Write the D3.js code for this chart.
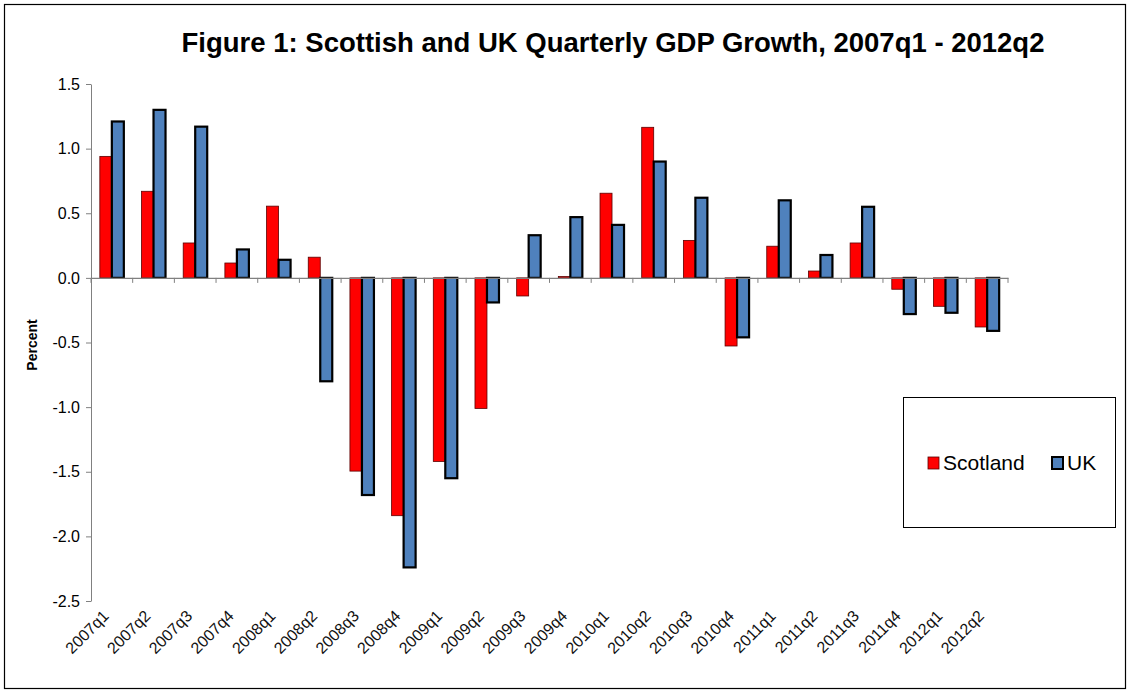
<!DOCTYPE html>
<html>
<head>
<meta charset="utf-8">
<script src="https://cdn.jsdelivr.net/npm/d3@7"></script>
<style>
  body { margin: 0; background: #fff; }
  text { font-family: Arial, "Liberation Sans", sans-serif; }
</style>
</head>
<body>
<div id="chart"></div>
<script>
// Quarterly GDP growth (percent)

const quarters = ['2007q1', '2007q2', '2007q3', '2007q4', '2008q1', '2008q2', '2008q3', '2008q4',
  '2009q1', '2009q2', '2009q3', '2009q4', '2010q1', '2010q2', '2010q3', '2010q4',
  '2011q1', '2011q2', '2011q3', '2011q4', '2012q1', '2012q2'];

const scotland = [0.94, 0.67, 0.27, 0.115, 0.555, 0.16, -1.495, -1.84, -1.42, -1.01, -0.14, 0.01,
  0.655, 1.165, 0.29, -0.527, 0.245, 0.053, 0.27, -0.088, -0.22, -0.38];

const uk = [1.21, 1.30, 1.17, 0.22, 0.14, -0.80, -1.68, -2.24, -1.55, -0.19, 0.33, 0.47,
  0.41, 0.90, 0.62, -0.46, 0.60, 0.177, 0.55, -0.28, -0.27, -0.41];

const seriesNames = ['Scotland', 'UK'];
const yTicks = [1.5, 1.0, 0.5, 0.0, -0.5, -1.0, -1.5, -2.0, -2.5];

const width = 1127;
const height = 690;

const svg = d3.select('#chart')
  .append('svg')
  .attr('width', width)
  .attr('height', height)

// outer chart border
svg.append('rect')
  .attr('x', 4.5).attr('y', 4.5)
  .attr('width', width - 6).attr('height', height - 6)
  .attr('fill', 'none')
  .attr('stroke', '#000')
  .attr('stroke-width', 1.2)

svg.append('text')
  .attr('x', 613)
  .attr('y', 52)
  .attr('text-anchor', 'middle')
  .attr('font-size', '27.5px')
  .attr('font-weight', 'bold')
  .text('Figure 1: Scottish and UK Quarterly GDP Growth, 2007q1 - 2012q2')

// scales
const x = d3.scaleBand()
  .domain(quarters)
  .range([91, 1008])

const xInner = d3.scaleBand()
  .domain(seriesNames)
  .range([0, 24])

const y = d3.scaleLinear()
  .domain([-2.5, 1.5])
  .range([601, 84])

const barOffset = (x.bandwidth() - 24) / 2;

// y axis (plain hyphen for negatives, like the original)
const yAxis = d3.axisLeft(y)
  .tickValues(yTicks)
  .tickFormat((d) => d.toFixed(1))
  .tickSize(5)
  .tickSizeOuter(0)

const yg = svg.append('g')
  .attr('transform', 'translate(91,0)')
  .call(yAxis)
yg.select('.domain').attr('stroke', '#808080')
yg.selectAll('.tick line').attr('stroke', '#808080')
yg.selectAll('.tick text')
  .attr('x', -11)
  .attr('font-size', '16px')
  .attr('fill', '#000')
  .attr('font-family', 'Arial, "Liberation Sans", sans-serif')

svg.append('text')
  .attr('transform', 'translate(37,345) rotate(-90)')
  .attr('text-anchor', 'middle')
  .attr('font-size', '14px')
  .attr('font-weight', 'bold')
  .text('Percent')

// bars
const rows = quarters.map((q, i) => ({ q: q, values: [scotland[i], uk[i]] }));

const groups = svg.selectAll('.group')
  .data(rows)
  .enter()
  .append('g')
  .attr('class', 'group')
  .attr('transform', (d) => 'translate(' + (x(d.q) + barOffset) + ',0)')

groups.selectAll('rect')
  .data((d) => d.values.map((v, k) => ({ name: seriesNames[k], v: v })))
  .enter()
  .append('rect')
  .attr('x', (d) => xInner(d.name))
  .attr('width', xInner.bandwidth())
  .attr('y', (d) => y(Math.max(0, d.v)))
  .attr('height', (d) => Math.abs(y(d.v) - y(0)))
  .attr('fill', (d) => d.name === 'Scotland' ? '#ff0000' : '#4f81bd')
  .attr('stroke', (d) => d.name === 'Scotland' ? '#5a0000' : '#000')
  .attr('stroke-width', (d) => d.name === 'Scotland' ? 0.8 : 2.2)

// x axis at zero
const xAxis = d3.axisBottom(x)
  .tickValues([])
  .tickSizeOuter(0)

const xg = svg.append('g')
  .attr('transform', 'translate(0,' + y(0) + ')')
  .call(xAxis)
xg.select('.domain').attr('stroke', '#808080').attr('stroke-width', 1.3)

// tick marks at category boundaries
xg.selectAll('.bound')
  .data(quarters.concat(['end']))
  .enter()
  .append('line')
  .attr('class', 'bound')
  .attr('x1', (d, i) => 91 + i * x.step())
  .attr('x2', (d, i) => 91 + i * x.step())
  .attr('y1', 0)
  .attr('y2', 5)
  .attr('stroke', '#808080')

// rotated category labels at the bottom
svg.selectAll('.xlabel')
  .data(quarters)
  .enter()
  .append('text')
  .attr('class', 'xlabel')
  .attr('transform', (d) => 'translate(' + (x(d) + x.bandwidth() / 2 - 2) + ',617) rotate(-45)')
  .attr('text-anchor', 'end')
  .attr('font-size', '16px')
  .attr('fill', '#111')
  .text((d) => d)

// legend
svg.append('rect')
  .attr('x', 903.5).attr('y', 397.5)
  .attr('width', 212).attr('height', 130)
  .attr('fill', '#fff')
  .attr('stroke', '#000')
  .attr('stroke-width', 1)

const legendX = [928, 1052];
const legend = svg.selectAll('.legend')
  .data(seriesNames)
  .enter()
  .append('g')
  .attr('class', 'legend')
  .attr('transform', (d, i) => 'translate(' + legendX[i] + ',457)')

legend.append('rect')
  .attr('width', 11).attr('height', 12)
  .attr('fill', (d) => d === 'Scotland' ? '#ff0000' : '#4f81bd')
  .attr('stroke', (d) => d === 'Scotland' ? '#5a0000' : '#000')
  .attr('stroke-width', (d) => d === 'Scotland' ? 0.8 : 2)

legend.append('text')
  .attr('x', 15)
  .attr('y', 13)
  .attr('font-size', '21px')
  .text((d) => d)
</script>
</body>
</html>
